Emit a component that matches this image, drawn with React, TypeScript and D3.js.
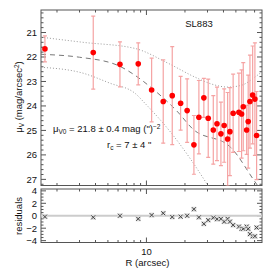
import { useEffect, useRef } from 'react';
import * as d3 from 'd3';

// surface brightness profile, SL883
const radius = [1.61, 3.84, 6.21, 8.63, 10.98, 13.53, 15.91, 18.5, 20.8, 23.5, 25.7, 28.1, 30.4, 33.3, 35.6, 38.2, 40.5, 43.1, 44.9, 47.6, 52.8, 55.4, 57.1, 60.7, 62.4, 64.4, 67.6, 70.4, 72.6];
const mu = [21.67, 21.82, 22.3, 22.28, 23.35, 23.82, 23.58, 23.89, 24.19, 25.59, 24.46, 23.67, 24.5, 24.98, 24.73, 25.14, 24.8, 25.35, 25.05, 24.3, 24.26, 24.33, 24.03, 24.98, 24.64, 23.82, 23.55, 23.72, 25.21];
const muErr = [0.53, 1.49, 0.92, 0.86, 1.3, 1.7, 2.0, 1.1, 1.3, 1.2, 1.5, 0.8, 1.6, 1.4, 1.5, 1.3, 1.5, 1.9, 1.8, 1.6, 1.6, 1.8, 1.8, 1.0, 1.9, 1.9, 2.0, 2.3, 1.8];
const resid = [-0.15, -0.25, 0, -0.5, 0.1, 0.4, -0.2, -0.15, 0, 1.05, -0.25, -1.3, -0.7, -0.3, -0.55, -0.5, -0.95, -0.5, -0.95, -1.5, -1.75, -2.1, -2.1, -1.75, -2.1, -2.95, -3.3, -3.3, -1.9];

// fitted profile and its envelope
const fitR = [1.5, 3.0, 5.9, 8.1, 11, 17.6, 22.7, 45.7, 71.6, 80];
const fitMu = [21.89, 22.01, 22.33, 22.74, 23.27, 24.25, 24.91, 25.7, 27.15, 27.5];
const upperR = [1.5, 3.19, 8.13, 14.7, 23.9, 32.5, 43.4, 55.7, 70.4, 79.8];
const upperMu = [21.19, 21.4, 21.65, 22.25, 22.82, 23.11, 23.23, 23.15, 22.82, 22.61];
const lowerR = [1.5, 3.19, 5.19, 8.13, 9.73, 16.1, 29.7, 35];
const lowerMu = [22.42, 22.66, 23.07, 23.48, 23.89, 25.19, 27.19, 27.8];

const muTicks = [21, 22, 23, 24, 25, 26, 27];
const resTicks = [4, 2, 0, -2, -4];
const xLabelTicks = [10];

const FONT = 'Liberation Sans, Arial, Helvetica, sans-serif';
const AXIS = '#555';

export default function App() {
  const ref = useRef<SVGSVGElement>(null);

  useEffect(() => {
    if (!ref.current) return;
    const svg = d3.select(ref.current);
    svg.selectAll('*').remove();

    const left = 41, right = 262;
    const mainTop = 10, mainBot = 185.5;
    const resTop = 189, resBot = 242.5;

    const x = d3.scaleLog().domain([1.5, 80]).range([left, right]);
    const y = d3.scaleLinear().domain([20.08, 27.25]).range([mainTop, mainBot]);
    const yr = d3.scaleLinear().domain([-4.3, 4.3]).range([resBot, resTop]);

    const defs = svg.append('defs');
    defs.append('clipPath').attr('id', 'clipMain')
      .append('rect').attr('x', left).attr('y', mainTop).attr('width', right - left).attr('height', mainBot - mainTop);

    const minorX = d3.range(2, 10).concat(d3.range(20, 90, 10)).filter((v) => v > 1.5 && v < 80);

    // frames and ticks
    const frame = (top: number, bot: number, ys: d3.ScaleLinear<number, number>, major: number[], minor: number[]) => {
      const g = svg.append('g').attr('stroke', AXIS).attr('stroke-width', 1).attr('fill', 'none');
      g.append('rect').attr('x', left).attr('y', top).attr('width', right - left).attr('height', bot - top);
      major.forEach((v) => {
        g.append('line').attr('x1', left).attr('x2', left + 5).attr('y1', ys(v)).attr('y2', ys(v));
        g.append('line').attr('x1', right).attr('x2', right - 5).attr('y1', ys(v)).attr('y2', ys(v));
      });
      minor.forEach((v) => {
        g.append('line').attr('x1', left).attr('x2', left + 2.5).attr('y1', ys(v)).attr('y2', ys(v));
        g.append('line').attr('x1', right).attr('x2', right - 2.5).attr('y1', ys(v)).attr('y2', ys(v));
      });
      g.append('line').attr('x1', x(10)).attr('x2', x(10)).attr('y1', bot).attr('y2', bot - 5);
      g.append('line').attr('x1', x(10)).attr('x2', x(10)).attr('y1', top).attr('y2', top + 5);
      minorX.forEach((v) => {
        g.append('line').attr('x1', x(v)).attr('x2', x(v)).attr('y1', bot).attr('y2', bot - 2.5);
        g.append('line').attr('x1', x(v)).attr('x2', x(v)).attr('y1', top).attr('y2', top + 2.5);
      });
    };
    frame(mainTop, mainBot, y, muTicks, d3.range(20.2, 27.25, 0.2).filter((v) => Math.abs(v - Math.round(v)) > 0.01));
    frame(resTop, resBot, yr, resTicks, d3.range(-4, 4.01, 0.5).filter((v) => Math.abs(v % 2) > 0.01));

    // curves
    const line = d3.line<[number, number]>().x((d) => x(d[0])).y((d) => y(d[1])).curve(d3.curveMonotoneX);
    const curves = svg.append('g').attr('clip-path', 'url(#clipMain)').attr('fill', 'none');
    curves.append('path').attr('d', line(fitR.map((r, i) => [r, fitMu[i]]))!)
      .attr('stroke', '#777').attr('stroke-width', 1).attr('stroke-dasharray', '5,4');
    curves.append('path').attr('d', line(upperR.map((r, i) => [r, upperMu[i]]))!)
      .attr('stroke', '#999').attr('stroke-width', 1).attr('stroke-dasharray', '1,2');
    curves.append('path').attr('d', line(lowerR.map((r, i) => [r, lowerMu[i]]))!)
      .attr('stroke', '#999').attr('stroke-width', 1).attr('stroke-dasharray', '1,2');

    // error bars + points
    const pts = svg.append('g').attr('clip-path', 'url(#clipMain)');
    radius.forEach((r, i) => {
      const cx = x(r);
      const y0 = y(mu[i] - muErr[i]), y1 = y(mu[i] + muErr[i]);
      pts.append('line').attr('x1', cx).attr('x2', cx).attr('y1', y0).attr('y2', y1)
        .attr('stroke', '#f5a3a3').attr('stroke-width', 1.2);
      [y0, y1].forEach((yy) => pts.append('line').attr('x1', cx - 2).attr('x2', cx + 2).attr('y1', yy).attr('y2', yy)
        .attr('stroke', '#f5a3a3').attr('stroke-width', 1.2));
    });
    radius.forEach((r, i) => {
      pts.append('circle').attr('cx', x(r)).attr('cy', y(mu[i])).attr('r', 2.8).attr('fill', '#ff0000');
    });

    // residual panel
    svg.append('line').attr('x1', left).attr('x2', right).attr('y1', yr(0)).attr('y2', yr(0))
      .attr('stroke', '#ccc').attr('stroke-width', 2);
    const rg = svg.append('g');
    radius.forEach((r, i) => {
      const cx = x(r), cy = yr(resid[i]);
      rg.append('rect').attr('x', cx - 2.5).attr('y', cy - 2.5).attr('width', 5).attr('height', 5).attr('fill', '#ddd');
      rg.append('path').attr('d', `M${cx - 2},${cy - 2}L${cx + 2},${cy + 2}M${cx - 2},${cy + 2}L${cx + 2},${cy - 2}`)
        .attr('stroke', '#444').attr('stroke-width', 1);
    });

    // tick labels
    const txt = svg.append('g').attr('font-family', FONT).attr('font-size', 9.5).attr('fill', '#111');
    muTicks.forEach((v) => txt.append('text').attr('x', 37).attr('y', y(v) + 3.4).attr('text-anchor', 'end').text(v));
    resTicks.forEach((v) => txt.append('text').attr('x', 37).attr('y', yr(v) + 3.4).attr('text-anchor', 'end')
      .text(v < 0 ? `\u2212${-v}` : `${v}`));
    xLabelTicks.forEach((v) => txt.append('text').attr('x', x(v)).attr('y', 255).attr('text-anchor', 'middle').text(v));

    // axis titles
    txt.append('text').attr('x', x(10) + 1).attr('y', 266).attr('text-anchor', 'middle').text('R (arcsec)');
    txt.append('text').attr('transform', 'translate(22,216) rotate(-90)').attr('text-anchor', 'middle').text('residuals');
    const yl = txt.append('text').attr('transform', 'translate(22,97) rotate(-90)').attr('text-anchor', 'middle');
    yl.append('tspan').text('\u03bc');
    yl.append('tspan').attr('font-size', 6.5).attr('dy', 2).text('V');
    yl.append('tspan').attr('dy', -2).text(' (mag/arcsec');
    yl.append('tspan').attr('font-size', 6.5).attr('dy', -3.5).text('2');
    yl.append('tspan').attr('dy', 3.5).text(')');

    txt.append('text').attr('x', 199).attr('y', 27).attr('text-anchor', 'middle').text('SL883');

    const t1 = txt.append('text').attr('x', 53).attr('y', 132);
    t1.append('tspan').text('\u03bc');
    t1.append('tspan').attr('font-size', 6.5).attr('dy', 2).text('V0');
    t1.append('tspan').attr('dy', -2).text(' = 21.8 \u00b1 0.4 mag (")');
    t1.append('tspan').attr('font-size', 6.5).attr('dy', -3.5).text('\u22122');

    const t2 = txt.append('text').attr('x', 107).attr('y', 148);
    t2.append('tspan').text('r');
    t2.append('tspan').attr('font-size', 6.5).attr('dy', 2).text('c');
    t2.append('tspan').attr('dy', -2).text(' = 7 \u00b1 4 "');
  }, []);

  return <svg ref={ref} width={270} height={270} style={{ position: 'absolute', left: 0, top: 0 }} />;
}
